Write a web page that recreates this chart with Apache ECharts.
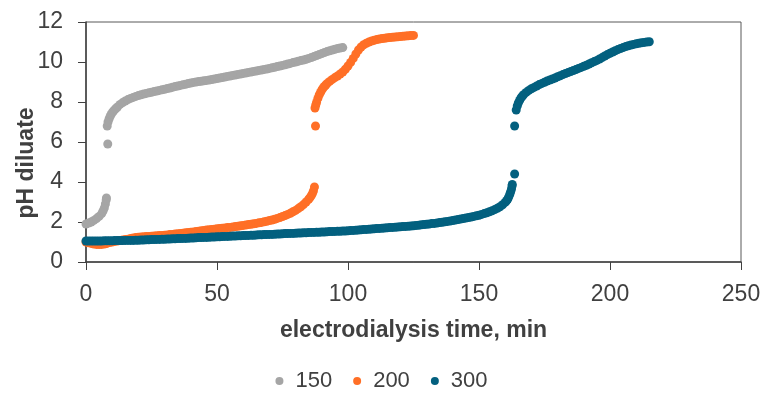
<!DOCTYPE html>
<html>
<head>
<meta charset="utf-8">
<script src="https://cdn.jsdelivr.net/npm/echarts@6/dist/echarts.min.js"></script>
<style>
  html, body { margin: 0; padding: 0; background: #fff; }
  #chart { width: 763px; height: 403px; }
</style>
</head>
<body>
<div id="chart"></div>
<script>
// [time min, pH]
const run150 = [
  [0, 1.9], [1, 1.95], [2, 2.0], [3, 2.08], [4, 2.17], [5, 2.28], [6, 2.42], [6.5, 2.55], [7, 2.7],
  [7.4, 2.9], [7.7, 3.1], [7.8, 3.2], [8.3, 5.9], [8.1, 6.8], [8.4, 7.0], [8.8, 7.15], [9.2, 7.28],
  [9.6, 7.38], [10, 7.47], [10.5, 7.55], [11, 7.62], [11.5, 7.69], [12, 7.75], [13, 7.88], [14, 7.97],
  [15, 8.05], [16, 8.12], [17, 8.18], [18, 8.23], [19, 8.28], [20, 8.32], [21, 8.36], [22, 8.4],
  [23, 8.43], [24, 8.46], [25, 8.49], [26, 8.52], [27, 8.55], [28, 8.58], [29, 8.61], [30, 8.64],
  [31, 8.67], [32, 8.7], [33, 8.74], [34, 8.77], [35, 8.8], [36, 8.83], [37, 8.86], [38, 8.89],
  [39, 8.92], [40, 8.95], [41, 8.98], [42, 9.0], [43, 9.02], [44, 9.04], [45, 9.06], [46, 9.08],
  [47, 9.1], [48, 9.12], [49, 9.15], [50, 9.17], [51, 9.2], [52, 9.22], [53, 9.25], [54, 9.28],
  [55, 9.3], [56, 9.33], [57, 9.35], [58, 9.38], [59, 9.4], [60, 9.43], [61, 9.45], [62, 9.48],
  [63, 9.5], [64, 9.53], [65, 9.55], [66, 9.58], [67, 9.6], [68, 9.63], [69, 9.65], [70, 9.68],
  [71, 9.71], [72, 9.74], [73, 9.77], [74, 9.8], [75, 9.83], [76, 9.86], [77, 9.9], [78, 9.93],
  [79, 9.97], [80, 10.0], [81, 10.04], [82, 10.07], [83, 10.1], [84, 10.14], [85, 10.18],
  [86, 10.22], [87, 10.27], [88, 10.32], [89, 10.37], [90, 10.42], [91, 10.47], [92, 10.52],
  [93, 10.56], [94, 10.6], [95, 10.64], [96, 10.67], [97, 10.7], [98, 10.72]
]
const run200 = [
  [0, 1.0], [1, 0.96], [2, 0.93], [3, 0.9], [4, 0.88], [5, 0.87], [6, 0.88], [7, 0.9], [8, 0.93],
  [9, 0.97], [10, 1.0], [11, 1.03], [12, 1.05], [13, 1.08], [14, 1.1], [15, 1.12], [16, 1.14],
  [17, 1.17], [18, 1.2], [19, 1.22], [20, 1.24], [21, 1.25], [22, 1.26], [23, 1.27], [24, 1.28],
  [25, 1.29], [26, 1.3], [27, 1.31], [28, 1.32], [29, 1.33], [30, 1.34], [31, 1.35], [32, 1.37],
  [33, 1.38], [34, 1.4], [35, 1.41], [36, 1.43], [37, 1.44], [38, 1.46], [39, 1.47], [40, 1.49],
  [41, 1.5], [42, 1.52], [43, 1.54], [44, 1.56], [45, 1.58], [46, 1.6], [47, 1.61], [48, 1.63],
  [49, 1.64], [50, 1.66], [51, 1.67], [52, 1.69], [53, 1.7], [54, 1.72], [55, 1.73], [56, 1.75],
  [57, 1.77], [58, 1.79], [59, 1.81], [60, 1.83], [61, 1.85], [62, 1.87], [63, 1.89], [64, 1.91],
  [65, 1.93], [66, 1.96], [67, 1.98], [68, 2.01], [69, 2.04], [70, 2.07], [71, 2.1], [72, 2.14],
  [73, 2.18], [74, 2.22], [75, 2.27], [76, 2.32], [77, 2.38], [78, 2.44], [79, 2.51], [80, 2.58],
  [81, 2.67], [82, 2.76], [83, 2.87], [84, 3.0], [85, 3.14], [85.5, 3.22], [86, 3.32], [86.4, 3.42],
  [86.8, 3.55], [87.2, 3.75], [87.6, 6.8], [87.4, 7.7], [87.7, 7.85], [88, 7.98], [88.5, 8.18],
  [89, 8.35], [89.5, 8.48], [90, 8.6], [90.5, 8.7], [91, 8.78], [91.5, 8.85], [92, 8.92], [93, 9.03],
  [94, 9.13], [95, 9.22], [96, 9.3], [97, 9.4], [98, 9.5], [99, 9.64], [100, 9.8], [101, 9.98],
  [102, 10.18], [103, 10.4], [104, 10.6], [105, 10.75], [106, 10.86], [107, 10.94], [108, 11.0],
  [109, 11.05], [110, 11.09], [111, 11.12], [112, 11.15], [113, 11.17], [114, 11.19], [115, 11.21],
  [116, 11.22], [117, 11.24], [118, 11.25], [119, 11.26], [120, 11.27], [121, 11.29], [122, 11.3],
  [123, 11.31], [124, 11.32], [125, 11.33]
]
const run300 = [
  [0, 1.05], [1, 1.05], [2, 1.05], [3, 1.05], [4, 1.05], [5, 1.05], [6, 1.05], [7, 1.06], [8, 1.06],
  [9, 1.06], [10, 1.06], [11, 1.07], [12, 1.07], [13, 1.07], [14, 1.07], [15, 1.08], [16, 1.08],
  [17, 1.08], [18, 1.08], [19, 1.09], [20, 1.09], [21, 1.1], [22, 1.1], [23, 1.11], [24, 1.11],
  [25, 1.12], [26, 1.12], [27, 1.13], [28, 1.13], [29, 1.14], [30, 1.14], [31, 1.15], [32, 1.15],
  [33, 1.16], [34, 1.16], [35, 1.17], [36, 1.17], [37, 1.18], [38, 1.18], [39, 1.19], [40, 1.2],
  [41, 1.2], [42, 1.21], [43, 1.22], [44, 1.22], [45, 1.23], [46, 1.23], [47, 1.24], [48, 1.25],
  [49, 1.25], [50, 1.26], [51, 1.26], [52, 1.27], [53, 1.28], [54, 1.28], [55, 1.29], [56, 1.3],
  [57, 1.3], [58, 1.31], [59, 1.31], [60, 1.32], [61, 1.32], [62, 1.33], [63, 1.34], [64, 1.34],
  [65, 1.35], [66, 1.36], [67, 1.36], [68, 1.37], [69, 1.37], [70, 1.38], [71, 1.38], [72, 1.39],
  [73, 1.4], [74, 1.4], [75, 1.41], [76, 1.42], [77, 1.42], [78, 1.43], [79, 1.43], [80, 1.44],
  [81, 1.45], [82, 1.45], [83, 1.46], [84, 1.46], [85, 1.47], [86, 1.48], [87, 1.48], [88, 1.49],
  [89, 1.49], [90, 1.5], [91, 1.5], [92, 1.51], [93, 1.52], [94, 1.52], [95, 1.53], [96, 1.54],
  [97, 1.54], [98, 1.55], [99, 1.55], [100, 1.56], [101, 1.57], [102, 1.58], [103, 1.59], [104, 1.6],
  [105, 1.61], [106, 1.62], [107, 1.63], [108, 1.64], [109, 1.65], [110, 1.66], [111, 1.67],
  [112, 1.68], [113, 1.69], [114, 1.7], [115, 1.71], [116, 1.72], [117, 1.73], [118, 1.74],
  [119, 1.75], [120, 1.76], [121, 1.77], [122, 1.78], [123, 1.79], [124, 1.8], [125, 1.81],
  [126, 1.83], [127, 1.84], [128, 1.86], [129, 1.87], [130, 1.89], [131, 1.9], [132, 1.92],
  [133, 1.93], [134, 1.95], [135, 1.97], [136, 1.99], [137, 2.01], [138, 2.03], [139, 2.05],
  [140, 2.07], [141, 2.1], [142, 2.12], [143, 2.15], [144, 2.17], [145, 2.2], [146, 2.22],
  [147, 2.25], [148, 2.28], [149, 2.31], [150, 2.34], [151, 2.38], [152, 2.42], [153, 2.46],
  [154, 2.51], [155, 2.56], [156, 2.62], [157, 2.69], [158, 2.76], [159, 2.86], [160, 2.98],
  [160.5, 3.06], [161, 3.15], [161.4, 3.27], [161.8, 3.4], [162.1, 3.52], [162.4, 3.65],
  [162.6, 3.8], [162.7, 3.88], [163.6, 4.4], [163.6, 6.8], [164.2, 7.6], [164.6, 7.8], [165, 7.95],
  [165.5, 8.08], [166, 8.2], [166.5, 8.29], [167, 8.36], [168, 8.48], [169, 8.58], [170, 8.66],
  [171, 8.73], [172, 8.8], [173, 8.87], [174, 8.93], [175, 8.99], [176, 9.05], [177, 9.1],
  [178, 9.15], [179, 9.2], [180, 9.26], [181, 9.31], [182, 9.37], [183, 9.42], [184, 9.47],
  [185, 9.52], [186, 9.57], [187, 9.62], [188, 9.68], [189, 9.73], [190, 9.79], [191, 9.84],
  [192, 9.9], [193, 9.96], [194, 10.02], [195, 10.08], [196, 10.15], [197, 10.22], [198, 10.3],
  [199, 10.37], [200, 10.44], [201, 10.5], [202, 10.56], [203, 10.62], [204, 10.67], [205, 10.72],
  [206, 10.77], [207, 10.81], [208, 10.85], [209, 10.88], [210, 10.91], [211, 10.94], [212, 10.96],
  [213, 10.98], [214, 11.0], [215, 11.01]
]
const seriesNames = ['150', '200', '300']
const seriesColors = ['#a5a5a5', '#ff6f26', '#03607f']

const font = 'Liberation Sans, Arial, sans-serif'
const textColor = '#404040'
const chart = echarts.init(document.getElementById('chart'))

const option = {
  animation: false,
  textStyle: { fontFamily: font },
  grid: {
    left: 86,
    right: 22,
    top: 22,
    bottom: 141,
    outerBoundsMode: 'none',
    show: true,
    borderColor: '#595959',
    borderWidth: 1
  },
  legend: {
    data: seriesNames,
    top: 365,
    left: 'center',
    icon: 'circle',
    itemWidth: 8,
    itemHeight: 8,
    itemGap: 21,
    textStyle: { fontSize: 22, color: textColor, fontFamily: font, padding: [0, 0, 0, 7] }
  },
  xAxis: {
    type: 'value',
    min: 0,
    max: 250,
    interval: 50,
    name: 'electrodialysis time, min',
    nameLocation: 'middle',
    nameGap: 57,
    nameMoveOverlap: false,
    nameTextStyle: { fontSize: 23, fontWeight: 'bold', color: textColor, fontFamily: font },
    axisLine: { lineStyle: { color: '#404040', width: 1.5 } },
    axisTick: { show: true, inside: false, length: 8, lineStyle: { color: '#404040' } },
    axisLabel: { fontSize: 23, color: textColor, margin: 21 },
    splitLine: { show: false }
  },
  yAxis: {
    type: 'value',
    min: 0,
    max: 12,
    interval: 2,
    name: 'pH diluate',
    nameLocation: 'middle',
    nameGap: 48,
    nameMoveOverlap: false,
    nameTextStyle: {
      fontSize: 23, fontWeight: 'bold', color: textColor, fontFamily: font,
      padding: [0, 42, 0, 0]
    },
    axisLine: { show: true, lineStyle: { color: '#404040', width: 1.5 } },
    axisTick: { show: true, inside: false, length: 8, lineStyle: { color: '#404040' } },
    axisLabel: { fontSize: 23, color: textColor, margin: 23 },
    splitLine: { show: false }
  },
  series: [run150, run200, run300].map((d, i) => ({
    name: seriesNames[i],
    type: 'scatter',
    data: d,
    symbol: 'circle',
    symbolSize: 9,
    itemStyle: { color: seriesColors[i], opacity: 1 }
  }))
}
chart.setOption(option)
</script>
</body>
</html>
